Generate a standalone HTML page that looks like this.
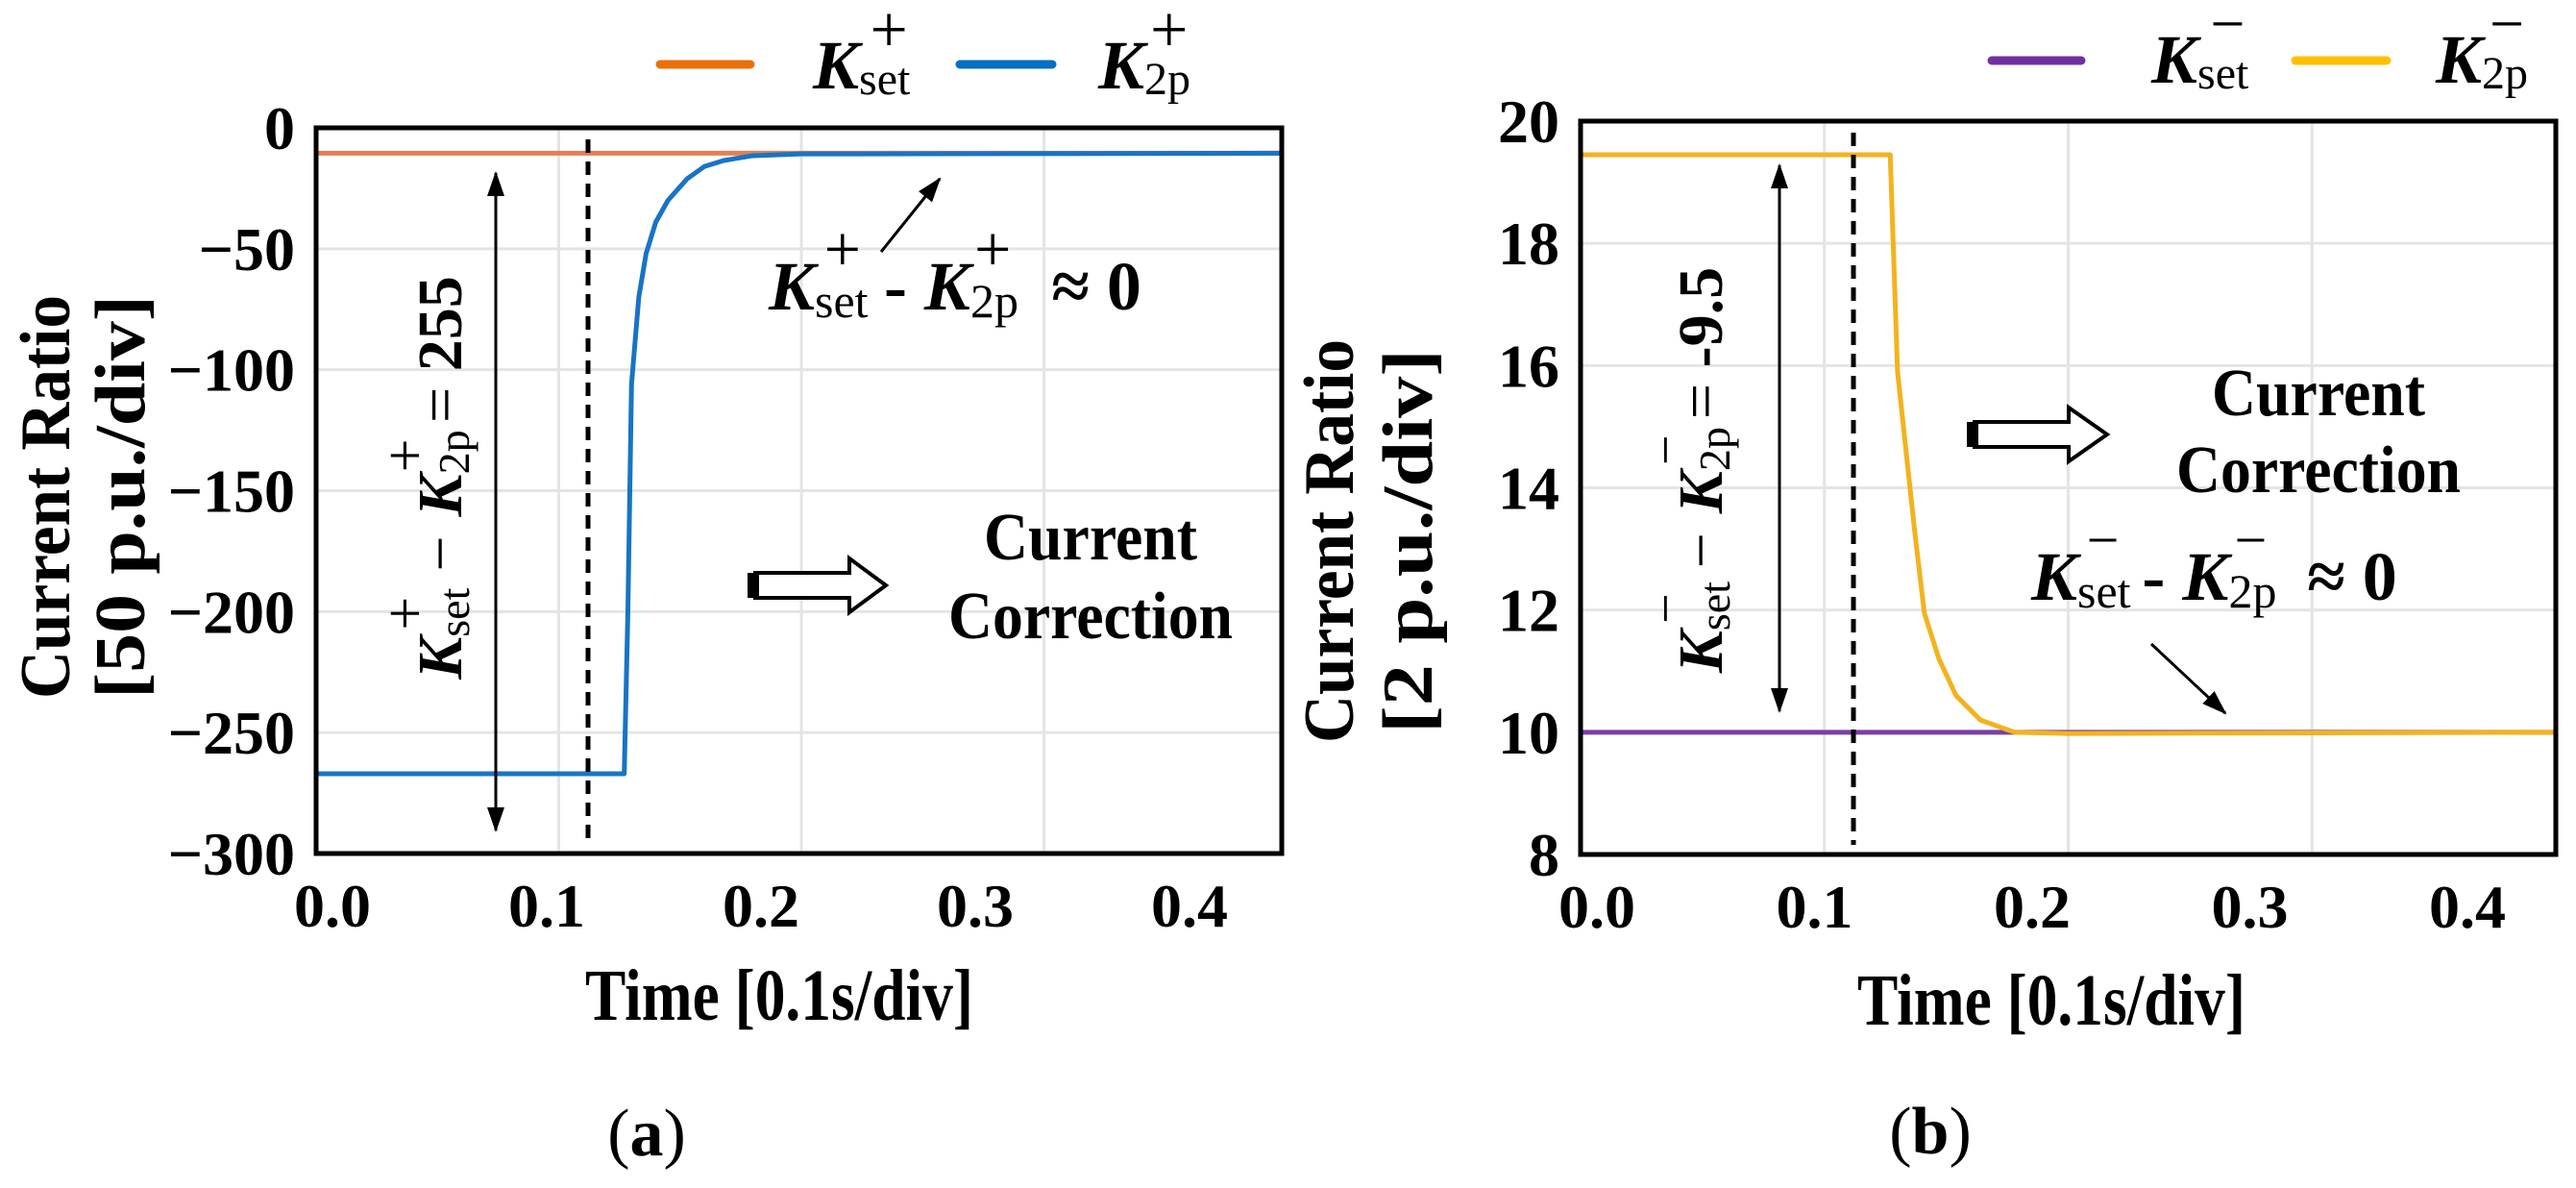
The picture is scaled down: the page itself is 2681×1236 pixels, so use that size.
<!DOCTYPE html>
<html><head><meta charset="utf-8"><style>
html,body{margin:0;padding:0;background:#fff;}
svg{display:block;font-family:"Liberation Serif",serif;font-weight:bold;}
</style></head><body>
<svg id="fig" width="2681" height="1236" viewBox="0 0 2681 1236" xmlns="http://www.w3.org/2000/svg">
<defs>
<marker id="ah2" markerWidth="26" markerHeight="26" refX="24" refY="13" orient="auto-start-reverse" markerUnits="userSpaceOnUse" viewBox="0 0 26 26"><path d="M0,4 L26,13 L0,22 z" fill="#000"/></marker>
</defs>
<g id="pa"></g>
<g id="pb"></g>

<g>
<line x1="687" y1="67" x2="781" y2="67" stroke="#E8710A" stroke-width="9" stroke-linecap="round"/>
<text x="846" y="92" font-size="72"><tspan font-style="italic">K</tspan><tspan font-size="48" font-weight="normal" dy="6">set</tspan><tspan font-size="70" font-weight="normal" dx="-42" dy="-44">+</tspan></text>
<line x1="999" y1="67" x2="1095" y2="67" stroke="#0070C0" stroke-width="9" stroke-linecap="round"/>
<text x="1143" y="92" font-size="72"><tspan font-style="italic">K</tspan><tspan font-size="48" font-weight="normal" dy="6">2p</tspan><tspan font-size="70" font-weight="normal" dx="-42" dy="-44">+</tspan></text>
</g>
<g>
<line x1="2073" y1="63" x2="2166" y2="63" stroke="#7030A0" stroke-width="9" stroke-linecap="round"/>
<text x="2239" y="86" font-size="72"><tspan font-style="italic">K</tspan><tspan font-size="48" font-weight="normal" dy="6">set</tspan><tspan font-size="64" font-weight="normal" dx="-40" dy="-46">−</tspan></text>
<line x1="2389" y1="63" x2="2484" y2="63" stroke="#FFC000" stroke-width="9" stroke-linecap="round"/>
<text x="2535" y="86" font-size="72"><tspan font-style="italic">K</tspan><tspan font-size="48" font-weight="normal" dy="6">2p</tspan><tspan font-size="64" font-weight="normal" dx="-40" dy="-46">−</tspan></text>
</g>

<g>
<line x1="516" y1="180" x2="516" y2="864" stroke="#000" stroke-width="3" marker-start="url(#ah2)" marker-end="url(#ah2)"/>
<text transform="translate(480,497) rotate(-90)" font-size="66" text-anchor="middle"><tspan font-style="italic">K</tspan><tspan font-size="46" font-weight="normal" dy="8">set</tspan><tspan font-size="62" font-weight="normal" dx="-44" dy="-46">+</tspan><tspan dx="26" dy="38" font-weight="normal">−</tspan><tspan dx="20" font-style="italic">K</tspan><tspan font-size="46" font-weight="normal" dy="8">2p</tspan><tspan font-size="62" font-weight="normal" dx="-44" dy="-46">+</tspan><tspan dy="38" font-weight="normal"> = </tspan><tspan>255</tspan></text>
<line x1="917" y1="262" x2="978" y2="186" stroke="#000" stroke-width="3" marker-end="url(#ah2)"/>
<text x="800" y="322" font-size="72"><tspan font-style="italic">K</tspan><tspan font-size="50" font-weight="normal" dy="8">set</tspan><tspan font-size="68" font-weight="normal" dx="-46" dy="-48">+</tspan><tspan dx="24" dy="40">-</tspan><tspan dx="18" font-style="italic">K</tspan><tspan font-size="50" font-weight="normal" dy="8">2p</tspan><tspan font-size="68" font-weight="normal" dx="-46" dy="-48">+</tspan><tspan dx="42" dy="40">≈ 0</tspan></text>
<g><path d="M786,596 L884,596 L884,581 L922,609 L884,637 L884,622 L786,622 Z" fill="#fff" stroke="#000" stroke-width="4"/><rect x="778" y="596" width="12" height="26" fill="#000"/></g>
<text x="1135" y="582" font-size="70" text-anchor="middle" textLength="222" lengthAdjust="spacingAndGlyphs">Current</text>
<text x="1135" y="664" font-size="70" text-anchor="middle" textLength="296" lengthAdjust="spacingAndGlyphs">Correction</text>
<text transform="translate(72,517) rotate(-90)" font-size="74" text-anchor="middle" textLength="420" lengthAdjust="spacingAndGlyphs">Current Ratio</text>
<text transform="translate(150,517) rotate(-90)" font-size="74" text-anchor="middle" textLength="420" lengthAdjust="spacingAndGlyphs">[50 p.u./div]</text>
<text x="811" y="1061" font-size="76" text-anchor="middle" textLength="404" lengthAdjust="spacingAndGlyphs">Time [0.1s/div]</text>
<text x="673" y="1202" font-size="70" font-weight="normal" text-anchor="middle">(<tspan font-weight="bold">a</tspan>)</text>
</g>
<g>
<line x1="1852" y1="172" x2="1852" y2="740" stroke="#000" stroke-width="3" marker-start="url(#ah2)" marker-end="url(#ah2)"/>
<text transform="translate(1792,489) rotate(-90)" font-size="66" text-anchor="middle"><tspan font-style="italic">K</tspan><tspan font-size="46" font-weight="normal" dy="8">set</tspan><tspan font-size="56" font-weight="normal" dx="-44" dy="-48">−</tspan><tspan dx="26" dy="40" font-weight="normal">−</tspan><tspan dx="20" font-style="italic">K</tspan><tspan font-size="46" font-weight="normal" dy="8">2p</tspan><tspan font-size="56" font-weight="normal" dx="-40" dy="-48">−</tspan><tspan dy="40" font-weight="normal"> = </tspan><tspan>-9.5</tspan></text>
<line x1="2239" y1="670" x2="2316" y2="742" stroke="#000" stroke-width="3" marker-end="url(#ah2)"/>
<text x="2114" y="624" font-size="72"><tspan font-style="italic">K</tspan><tspan font-size="50" font-weight="normal" dy="8">set</tspan><tspan font-size="60" font-weight="normal" dx="-46" dy="-50">−</tspan><tspan dx="24" dy="42">-</tspan><tspan dx="18" font-style="italic">K</tspan><tspan font-size="50" font-weight="normal" dy="8">2p</tspan><tspan font-size="60" font-weight="normal" dx="-44" dy="-50">−</tspan><tspan dx="42" dy="42">≈ 0</tspan></text>
<g><path d="M2055,439 L2153,439 L2153,424 L2193,452 L2153,480 L2153,465 L2055,465 Z" fill="#fff" stroke="#000" stroke-width="4"/><rect x="2047" y="439" width="12" height="26" fill="#000"/></g>
<text x="2413" y="432" font-size="70" text-anchor="middle" textLength="222" lengthAdjust="spacingAndGlyphs">Current</text>
<text x="2413" y="512" font-size="70" text-anchor="middle" textLength="296" lengthAdjust="spacingAndGlyphs">Correction</text>
<text transform="translate(1408,563) rotate(-90)" font-size="74" text-anchor="middle" textLength="420" lengthAdjust="spacingAndGlyphs">Current Ratio</text>
<text transform="translate(1490,563) rotate(-90)" font-size="74" text-anchor="middle" textLength="400" lengthAdjust="spacingAndGlyphs">[2 p.u./div]</text>
<text x="2135" y="1066" font-size="76" text-anchor="middle" textLength="404" lengthAdjust="spacingAndGlyphs">Time [0.1s/div]</text>
<text x="2009" y="1200" font-size="70" font-weight="normal" text-anchor="middle">(<tspan font-weight="bold">b</tspan>)</text>
</g>
</svg>
<script>
const NS='http://www.w3.org/2000/svg';
// Panel A data
const aTicksY=[0,-50,-100,-150,-200,-250,-300];
const aTicksX=[0.0,0.1,0.2,0.3,0.4];
const aKsetT=[0,0.398];
const aKsetV=[-10.5,-10.5];
const aK2pT=[0,0.127,0.1285,0.130,0.133,0.136,0.140,0.145,0.153,0.160,0.168,0.180,0.200,0.398];
const aK2pV=[-267,-267,-200,-106,-70,-52,-39,-30,-21,-16,-13.5,-11.5,-10.8,-10.5];
// Panel B data
const bTicksY=[20,18,16,14,12,10,8];
const bTicksX=[0.0,0.1,0.2,0.3,0.4];
const bKsetT=[0,0.4];
const bKsetV=[10,10];
const bK2pT=[0,0.127,0.130,0.137,0.141,0.147,0.154,0.164,0.178,0.2,0.4];
const bK2pV=[19.45,19.45,15.9,13.3,11.95,11.2,10.6,10.2,10.0,9.98,10.0];

function mk(tag,attrs,parent){const e=document.createElementNS(NS,tag);for(const k in attrs)e.setAttribute(k,attrs[k]);parent.appendChild(e);return e;}

function panel(g,cfg){
  const X=t=>cfg.x0+(t-cfg.tmin)/(cfg.tmax-cfg.tmin)*(cfg.x1-cfg.x0);
  const Y=v=>cfg.y1-(v-cfg.vmin)/(cfg.vmax-cfg.vmin)*(cfg.y1-cfg.y0);
  const LX=t=>cfg.lx0+(t/0.1)*cfg.lstep;
  cfg.ticksY.forEach(v=>{
    const l=mk('line',{x1:cfg.x0,x2:cfg.x1,y1:Y(v),y2:Y(v),stroke:'#e4e4e4','stroke-width':3},g);
    
    
    const t=mk('text',{x:cfg.x0-22,y:Y(v)+22,'font-size':64,'text-anchor':'end'},g);
    t.textContent=(v<0?'\u2212'+(-v):''+v);
    
    
  });
  cfg.ticksX.forEach(v=>{
    if(v>0&&X(v)<cfg.x1-5){
      const l=mk('line',{x1:X(v),x2:X(v),y1:cfg.y0,y2:cfg.y1,stroke:'#e4e4e4','stroke-width':3},g);
      
      
    }
    const t=mk('text',{x:LX(v),y:cfg.y1+76,'font-size':64,'text-anchor':'middle'},g);
    t.textContent=v.toFixed(1);
    
    
  });
  const line=(T,V,col,name,w)=>{
    const p=mk('polyline',{points:T.map((t,i)=>X(t)+','+Y(V[i])).join(' '),fill:'none',stroke:col,'stroke-width':w,'stroke-linejoin':'round'},g);
    
    
  };
  line(cfg.setT,cfg.setV,cfg.setC,cfg.setName,5);
  line(cfg.kT,cfg.kV,cfg.kC,cfg.kName,5);
  const d=mk('line',{x1:cfg.dashX,x2:cfg.dashX,y1:cfg.y0+12,y2:cfg.y1-10,stroke:'#000','stroke-width':5,'stroke-dasharray':'14 9'},g);
  
  
  const f=mk('rect',{x:cfg.x0,y:cfg.y0,width:cfg.x1-cfg.x0,height:cfg.y1-cfg.y0,fill:'none',stroke:'#000','stroke-width':5},g);
  
  
}

panel(document.getElementById('pa'),{x0:329,x1:1334,y0:133,y1:888,tmin:0,tmax:0.398,vmin:-300,vmax:0,
  lx0:346,lstep:223,ticksY:aTicksY,ticksX:aTicksX,setT:aKsetT,setV:aKsetV,setC:'#E27F57',setName:'kset-plus-line',
  kT:aK2pT,kV:aK2pV,kC:'#1874C4',kName:'k2p-plus-line',dashX:612});
panel(document.getElementById('pb'),{x0:1645,x1:2660,y0:126,y1:889,tmin:0,tmax:0.4,vmin:8,vmax:20,
  lx0:1662,lstep:226.5,ticksY:bTicksY,ticksX:bTicksX,setT:bKsetT,setV:bKsetV,setC:'#7A3EA8',setName:'kset-minus-line',
  kT:bK2pT,kV:bK2pV,kC:'#F2B31E',kName:'k2p-minus-line',dashX:1929});
</script>
</body></html>
